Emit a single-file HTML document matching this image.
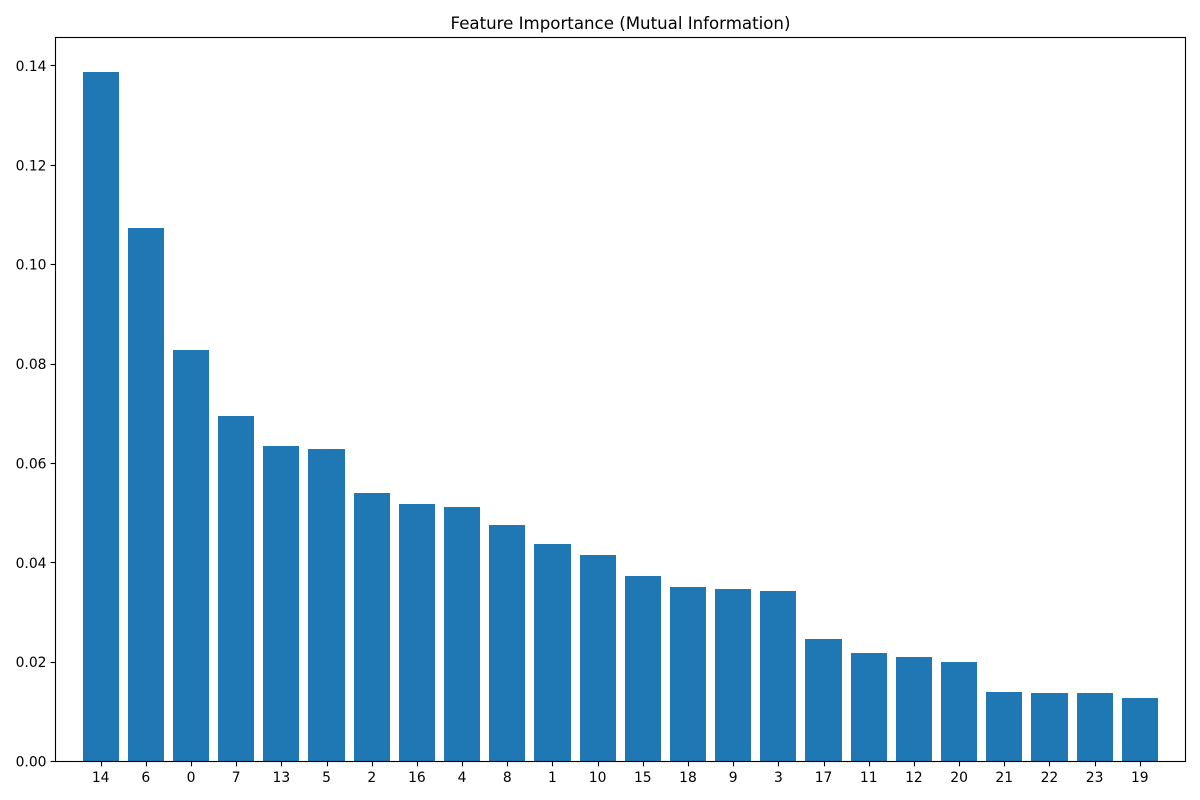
<!DOCTYPE html>
<html lang="en">
<head>
<meta charset="utf-8">
<title>Feature Importance (Mutual Information)</title>
<style>
html,body{margin:0;padding:0;background:#fff;}
svg{display:block;}
text{font-family:"DejaVu Sans",sans-serif;fill:#000;}
</style>
</head>
<body>
<svg id="chart" xmlns="http://www.w3.org/2000/svg" width="1200" height="800" viewBox="0 0 1200 800">
<rect x="0" y="0" width="1200" height="800" fill="#ffffff"/>
<text x="620.5" y="29" text-anchor="middle" font-size="16.64">Feature Importance (Mutual Information)</text>
<g id="bars"></g>
<g id="x-ticks"></g>
<g id="y-ticks"></g>
<rect x="55.5" y="37.5" width="1130" height="724" fill="none" stroke="#000" stroke-width="1.11"/>
</svg>
<script>
const categories = ['14','6','0','7','13','5','2','16','4','8','1','10','15','18','9','3','17','11','12','20','21','22','23','19'];
const importanceValues = [0.1388,0.1074,0.0828,0.0695,0.0635,0.0629,0.0540,0.0518,0.0512,0.0476,0.0438,0.0416,0.0373,0.0351,0.0347,0.0343,0.0246,0.0218,0.0210,0.0200,0.0139,0.0137,0.0137,0.0127];
const yTickValues = [0,0.02,0.04,0.06,0.08,0.10,0.12,0.14];
const yTickLabels = ['0.00','0.02','0.04','0.06','0.08','0.10','0.12','0.14'];

const NS = 'http://www.w3.org/2000/svg';
const plotBottom = 761.5;
const xStep = 45.18;
const xStart = 100.66;
const barWidth = 0.8 * xStep;
const yScale = 4968;

function xAxis(i) { return xStart + i * xStep; }
function yAxis(v) { return plotBottom - v * yScale; }

function make(tag, attrs) {
  const el = document.createElementNS(NS, tag);
  for (const k in attrs) el.setAttribute(k, attrs[k]);
  return el;
}

const barsGroup = document.getElementById('bars');
const xGroup = document.getElementById('x-ticks');
const yGroup = document.getElementById('y-ticks');

categories.forEach(function (cat, i) {
  const top = Math.round(yAxis(importanceValues[i]));
  const left = Math.round(xAxis(i) - barWidth / 2);
  const right = Math.round(xAxis(i) + barWidth / 2);
  const bar = make('rect', {x: left, y: top, width: right - left, height: 762 - top, fill: '#1f77b4'});
  
  
  barsGroup.appendChild(bar);

  const px = Math.round(xAxis(i)) + 0.5;
  const tick = make('line', {x1: px, x2: px, y1: plotBottom, y2: plotBottom + 4.86, stroke: '#000', 'stroke-width': 1.11});
  
  
  xGroup.appendChild(tick);

  const label = make('text', {x: xAxis(i), y: 782, 'text-anchor': 'middle', 'font-size': 13.89});
  
  
  label.textContent = cat;
  xGroup.appendChild(label);
});

yTickValues.forEach(function (v, i) {
  const py = Math.round(yAxis(v) - 0.5) + 0.5;
  const tick = make('line', {x1: 55.5 - 4.86, x2: 55.5, y1: py, y2: py, stroke: '#000', 'stroke-width': 1.11});
  
  
  yGroup.appendChild(tick);

  const label = make('text', {x: 46.5, y: yAxis(v) + 5, 'text-anchor': 'end', 'font-size': 13.89});
  
  
  label.textContent = yTickLabels[i];
  yGroup.appendChild(label);
});
</script>
</body>
</html>
